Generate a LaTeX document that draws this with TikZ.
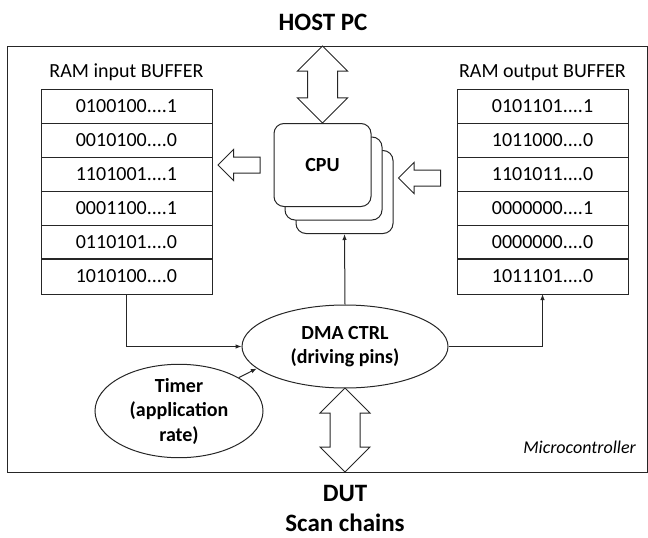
\documentclass[tikz,border=0pt]{standalone}
\usepackage{fontspec}
\setmainfont{Carlito}
\usetikzlibrary{arrows.meta,positioning,shapes.geometric,shapes.arrows}

\begin{document}
\begin{tikzpicture}[x=1pt,y=-1pt,>={Latex[length=6pt,width=4.5pt]},
    every node/.style={font=\fontsize{20}{24.5}\selectfont},
    line/.style={line width=1pt,draw=black!85},
    cell/.style={line,rectangle,minimum width=171pt,minimum height=34pt,inner sep=0pt,outer sep=0pt},
    core/.style={line,rectangle,rounded corners=10pt,fill=white,minimum width=97pt,minimum height=83pt},
    oval/.style={line,ellipse,align=center,inner sep=0pt,font=\fontsize{20}{24.5}\selectfont\bfseries},
    fat/.style={line,single arrow,shape border rotate=180,minimum height=42pt,inner xsep=0pt,inner ysep=7.5pt,single arrow head extend=7.5pt},
    fatboth/.style={line,double arrow,rotate=90,inner xsep=0pt,inner ysep=14.5pt,double arrow head extend=10pt},
    title/.style={align=center,font=\fontsize{25}{30}\selectfont\bfseries}]
    \useasboundingbox (0,0) rectangle (648,538);
    \draw[line] (7,46) rectangle (647,472);
    \node[anchor=east,inner sep=0pt,font=\fontsize{18}{22}\selectfont\itshape] (mcu) at (636,447) {Microcontroller};
    \node[title] (host) at (323,22) {HOST PC};
    \node[title] (dut) at (345,508) {DUT\\Scan chains};
    % input buffer
    \node[cell] (in1) at (126.5,106) {0100100....1};
    \node[cell] (in2) [below=0pt of in1] {0010100....0};
    \node[cell] (in3) [below=0pt of in2] {1101001....1};
    \node[cell] (in4) [below=0pt of in3] {0001100....1};
    \node[cell] (in5) [below=0pt of in4] {0110101....0};
    \node[cell,minimum height=35pt] (in6) [below=0pt of in5] {1010100....0};
    \draw[line,line width=1.8pt] (in5.south west) -- (in5.south east);
    \node[inner sep=0pt] (inlbl) [above=8pt of in1] {RAM input BUFFER};
    % output buffer
    \node[cell] (out1) at (542.5,106) {0101101....1};
    \node[cell] (out2) [below=0pt of out1] {1011000....0};
    \node[cell] (out3) [below=0pt of out2] {1101011....0};
    \node[cell] (out4) [below=0pt of out3] {0000000....1};
    \node[cell] (out5) [below=0pt of out4] {0000000....0};
    \node[cell,minimum height=35pt] (out6) [below=0pt of out5] {1011101....0};
    \draw[line,line width=1.8pt] (out5.south west) -- (out5.south east);
    \node[inner sep=0pt] (outlbl) [above=8pt of out1] {RAM output BUFFER};
    % cpu stack
    \node[core] (cpu3) at (344.5,192) {};
    \node[core] (cpu2) at (333.5,178.5) {};
    \node[core,font=\fontsize{20}{24.5}\selectfont\bfseries] (cpu) at (322.5,165) {CPU};
    \node[fat] (toin) at (243,165) {};
    \node[fat] (fromout) at (423.5,178) {};
    \node[fatboth,minimum height=77pt] (hostlink) at (322.5,84.5) {};
    % dma and timer
    \node[oval,minimum width=206pt,minimum height=83pt] (dma) at (345,346.5) {DMA CTRL\\(driving pins)};
    \node[oval,minimum width=168pt,minimum height=84pt] (timer) at (179,411) {Timer\\(application\\rate)};
    \node[fatboth,minimum height=84pt] (dutlink) at (345,430) {};
    \draw[line,->] (in6.south) |- (dma.west);
    \draw[line,->] (dma.east) -| (out6.south);
    \draw[line,->] (dma.north) -- (cpu3.south);
    \draw[line,->] (timer.north east) -- (dma.194);
\end{tikzpicture}
\end{document}
